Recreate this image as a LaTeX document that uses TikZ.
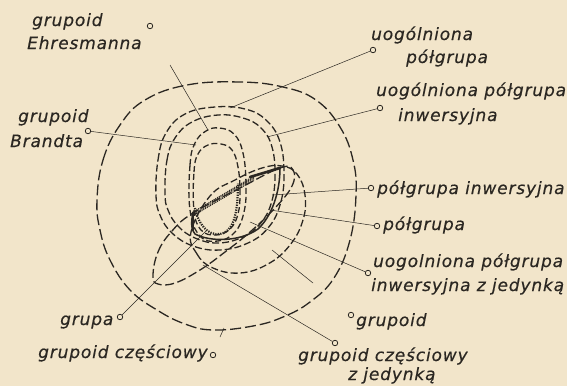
\documentclass[tikz,border=0pt]{standalone}
\usepackage{fontspec}
\usetikzlibrary{calc}
\setmainfont{DejaVu Sans}
\newfontfamily\labfont{DejaVu Sans}[LetterSpace=5, FakeBold=0.4]
\definecolor{paper}{HTML}{F2E5CA}
\definecolor{ink}{HTML}{2B2722}
\begin{document}
\begin{tikzpicture}[x=1pt,y=-1pt,
  lbl/.style={font=\labfont\fontsize{17}{17}\selectfont\itshape, anchor=base west, inner sep=0pt, text=ink},
  pin/.style={draw=ink, line width=0.8pt, circle, minimum size=5.5pt, inner sep=0pt, fill=paper},
  ptr/.style={draw=ink, line width=0.5pt},
  outerd/.style={draw=ink, line width=1.3pt, dash pattern=on 11pt off 4pt},
  ringd/.style={draw=ink, line width=1.3pt, dash pattern=on 7pt off 3pt},
  innerd/.style={draw=ink, line width=1.3pt, dash pattern=on 6pt off 3pt},
  dotd/.style={draw=ink, line width=2.2pt, dash pattern=on 1.3pt off 1.2pt},
  thind/.style={draw=ink, line width=0.6pt, dash pattern=on 1pt off 1pt}]
\fill[paper] (0,0) rectangle (567,386);
\useasboundingbox (0,0) rectangle (567,386);

% pointer end points
\coordinate (eE0) at (170,65);
\coordinate (eE) at (208,130);
\coordinate (eB) at (196,145);
\coordinate (eUP) at (230,108);
\coordinate (eUPI) at (267,137);
\coordinate (ePI) at (272,195);
\coordinate (eP) at (270,210);
\coordinate (eUPIJ) at (250,222);
\coordinate (eG0) at (313,283);
\coordinate (eG) at (272,250);
\coordinate (eGCJ) at (203,265);
\coordinate (eGR) at (207,230);
\coordinate (eGC0) at (220,337);
\coordinate (eGC) at (224,328);

% pins
\node[pin] (cE) at (150,26) {};
\node[pin] (cB) at (88,131) {};
\node[pin] (cUP) at (373,50) {};
\node[pin] (cUPI) at (380,108) {};
\node[pin] (cPI) at (371,188) {};
\node[pin] (cP) at (377,226) {};
\node[pin] (cUPIJ) at (368,273) {};
\node[pin] (cG) at (351,315) {};
\node[pin] (cGCJ) at (335,343) {};
\node[pin] (cGR) at (120,317) {};
\node[pin] (cGC) at (213,355) {};

% pointer lines
\draw[ptr] (eE0) -- (eE);
\draw[ptr] (cB) -- (eB);
\draw[ptr] (cUP) -- (eUP);
\draw[ptr] (cUPI) -- (eUPI);
\draw[ptr] (cPI) -- (ePI);
\draw[ptr] (cP) -- (eP);
\draw[ptr] (cUPIJ) -- (eUPIJ);
\draw[ptr] (eG0) -- (eG);
\draw[ptr] (cGCJ) -- (eGCJ);
\draw[ptr] (cGR) -- (eGR);
\draw[ptr] (eGC0) -- (eGC);

% outer curve
\draw[outerd] plot[smooth cycle, tension=0.7] coordinates {
 (97,200) (103,160) (120,125) (145,100) (187,85) (240,82) (283,87) (316,100)
 (340,127) (353,160) (356,195) (350,240) (334,278) (310,302) (283,317)
 (253,326) (213,330) (185,324) (157,310) (130,290) (110,260) (100,230)};

% double ring
\draw[ringd] plot[smooth cycle, tension=0.7] coordinates {
 (156,195) (158,160) (166,133) (185,114) (215,107) (245,109) (266,120)
 (280,142) (284,175) (280,205) (268,228) (248,243) (220,250) (193,246)
 (172,233) (160,215)};
\draw[ringd] plot[smooth cycle, tension=0.7] coordinates {
 (165,193) (167,160) (175,138) (192,122) (218,115) (243,118) (261,128)
 (272,147) (275,177) (271,204) (260,224) (243,237) (218,243) (195,238)
 (178,226) (168,210)};

% inner rings (Ehresmann, Brandt)
\draw[innerd] plot[smooth cycle, tension=0.7] coordinates {
 (190,210) (190,165) (195,143) (206,131) (219,128) (234,134) (243,153)
 (246,185) (244,212) (235,232) (218,241) (200,236)};
\draw[innerd] plot[smooth cycle, tension=0.7] coordinates {
 (194,210) (194,172) (198,154) (208,145) (221,144) (232,150) (238,167)
 (240,192) (238,214) (230,229) (216,235) (201,230)};

% right ellipse
\draw[ringd] plot[smooth cycle, tension=0.7] coordinates {
 (191,232) (197,254) (213,268) (240,273) (268,264) (290,245) (303,220)
 (305,195) (297,174) (282,166) (262,168) (235,180) (210,196)};

% long tilted ellipse
\draw[outerd, dash pattern=on 9pt off 3.5pt] plot[smooth cycle, tension=0.7] coordinates {
 (153,276) (158,252) (172,231) (193,213) (240,188) (280,168) (293,170)
 (292,186) (275,208) (250,232) (225,252) (200,270) (175,283) (158,284)};

% lens (thick) and dotted oval
\draw[ink, line width=1.5pt] (193,212) .. controls (191,222) and (191,230) .. (195,234)
  .. controls (210,242) and (240,242) .. (258,229)
  .. controls (272,216) and (280,192) .. (280,168);
\draw[ink, line width=2.6pt, line cap=round] (250,177) -- (280,168);
\draw[ink, line width=2pt] (193,212) -- (193,231);
\foreach \o in {0,1.3,2.6,3.9}
  \draw[thind, line width=1pt] ($(193,212)+(0,\o)$) -- ($(254,176)+(0,\o)$);
\draw[dotd] (195,208) .. controls (198,224) and (208,236) .. (220,234)
  .. controls (232,232) and (238,218) .. (238,183);
\draw[thind] (254,176) -- (282,166);

% labels
\node[lbl] (tE1) at (32,26) {grupoid};
\node[lbl] (tE2) at (27,49) {Ehresmanna};
\node[lbl] (tB1) at (18,122) {grupoid};
\node[lbl] (tB2) at (10,147) {Brandta};
\node[lbl] (tUP1) at (371,40) {uogólniona};
\node[lbl] (tUP2) at (406,63) {półgrupa};
\node[lbl] (tUPI1) at (376,96) {uogólniona półgrupa};
\node[lbl] (tUPI2) at (398,121) {inwersyjna};
\node[lbl] (tPI) at (377,194) {półgrupa inwersyjna};
\node[lbl] (tP) at (383,230) {półgrupa};
\node[lbl] (tUPIJ1) at (373,267) {uogolniona półgrupa};
\node[lbl] (tUPIJ2) at (371,291) {inwersyjna z jedynką};
\node[lbl] (tG) at (356,326) {grupoid};
\node[lbl] (tGCJ1) at (298,361) {grupoid częściowy};
\node[lbl] (tGCJ2) at (348,380) {z jedynką};
\node[lbl] (tGR) at (60,325) {grupa};
\node[lbl] (tGC) at (38,358) {grupoid częściowy};
\end{tikzpicture}
\end{document}
